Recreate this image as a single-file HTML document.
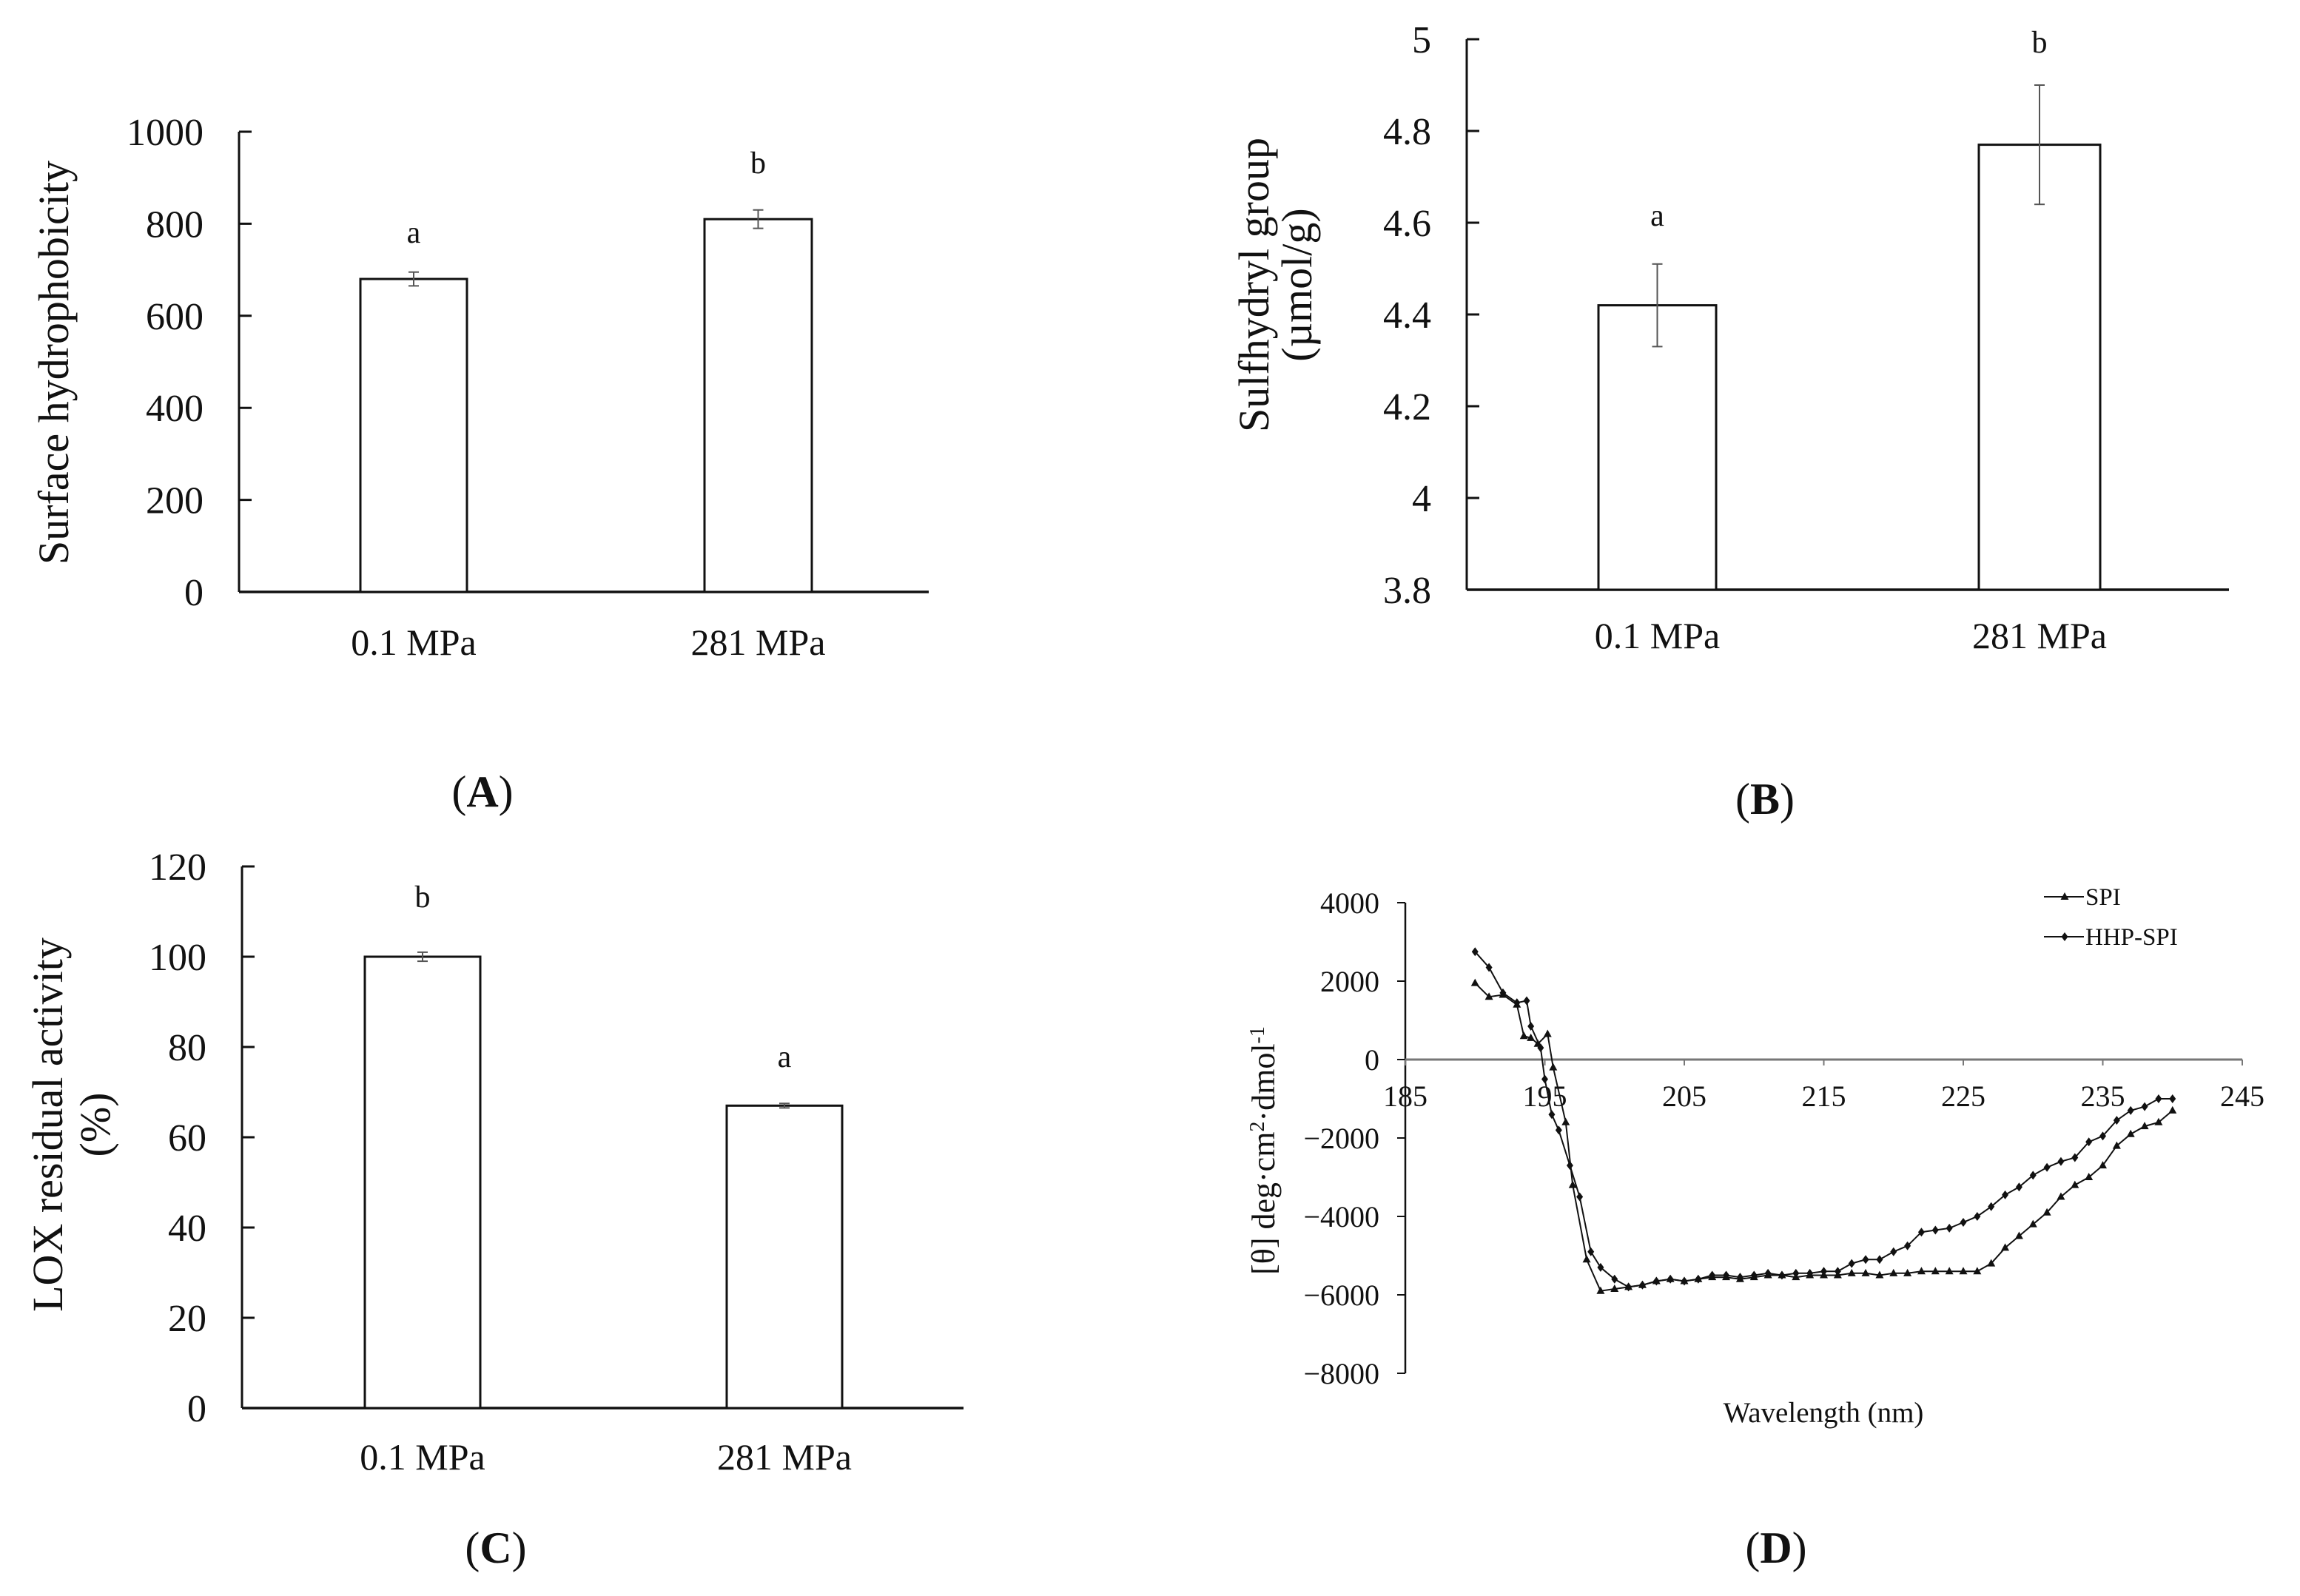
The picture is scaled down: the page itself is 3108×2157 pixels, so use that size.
<!DOCTYPE html>
<html><head><meta charset="utf-8"><style>
html,body{margin:0;padding:0;background:#fff}
svg{display:block}
text{font-family:"Liberation Serif",serif;fill:#111}
</style></head><body>
<svg id="fig" width="3108" height="2157" viewBox="0 0 3108 2157" xmlns="http://www.w3.org/2000/svg"></svg>
<script>
const NS='http://www.w3.org/2000/svg';
const svg=document.getElementById('fig');
function mk(tag,attrs,parent,txt){const e=document.createElementNS(NS,tag);for(const k in attrs)e.setAttribute(k,attrs[k]);if(txt!==undefined)e.textContent=txt;(parent||svg).appendChild(e);return e;}

// ---- Data ----
const barCats=['0.1 MPa','281 MPa'];
const aVals=[680,810]; const aErr=[15,20]; const aLetters=['a','b'];
const aTicks=[0,200,400,600,800,1000];
const bVals=[4.42,4.77]; const bErr=[0.09,0.13]; const bLetters=['a','b'];
const bTicks=[3.8,4,4.2,4.4,4.6,4.8,5];
const bTickLabels=['3.8','4','4.2','4.4','4.6','4.8','5'];
const cVals=[100,67]; const cErr=[1,0.5]; const cLetters=['b','a'];
const cTicks=[0,20,40,60,80,100,120];
const dXTicks=[185,195,205,215,225,235,245];
const dYTicks=[4000,2000,0,-2000,-4000,-6000,-8000];
const spiX=[190,191,192,193,193.5,194,194.5,195.2,195.6,196.5,197,198,199,200,201,202,203,204,205,206,207,208,209,210,211,212,213,214,215,216,217,218,219,220,221,222,223,224,225,226,227,228,229,230,231,232,233,234,235,236,237,238,239,240];
const spiY=[1950,1600,1650,1400,600,550,400,650,-200,-1600,-3200,-5100,-5900,-5850,-5800,-5750,-5650,-5600,-5650,-5600,-5550,-5550,-5600,-5550,-5500,-5500,-5550,-5500,-5500,-5500,-5450,-5450,-5500,-5450,-5450,-5400,-5400,-5400,-5400,-5400,-5200,-4800,-4500,-4200,-3900,-3500,-3200,-3000,-2700,-2200,-1900,-1700,-1600,-1300];
const hhpX=[190,191,192,193,193.7,194,194.7,195,195.5,196,196.8,197.5,198.3,199,200,201,202,203,204,205,206,207,208,209,210,211,212,213,214,215,216,217,218,219,220,221,222,223,224,225,226,227,228,229,230,231,232,233,234,235,236,237,238,239,240];
const hhpY=[2750,2350,1700,1450,1500,850,300,-500,-1400,-1800,-2700,-3500,-4900,-5300,-5600,-5800,-5750,-5650,-5600,-5650,-5600,-5500,-5500,-5550,-5500,-5450,-5500,-5450,-5450,-5400,-5400,-5200,-5100,-5100,-4900,-4750,-4400,-4350,-4300,-4150,-4000,-3750,-3450,-3250,-2950,-2750,-2600,-2500,-2100,-1950,-1550,-1300,-1200,-1000,-1000];

function barPanel(cfg){
  const g=mk('g',{});
  
  
  const y=v=>cfg.y0px+(v-cfg.min)/(cfg.max-cfg.min)*(cfg.y1px-cfg.y0px);
  const ax=mk('line',{x1:cfg.ax,y1:y(cfg.max),x2:cfg.ax,y2:y(cfg.min),stroke:'#111','stroke-width':3},g);
  
  const xa=mk('line',{x1:cfg.ax,y1:y(cfg.min),x2:cfg.xEnd,y2:y(cfg.min),stroke:'#111','stroke-width':3.5},g);
  
  cfg.ticks.forEach((t,i)=>{
    mk('line',{x1:cfg.ax,y1:y(t),x2:cfg.ax+17,y2:y(t),stroke:'#111','stroke-width':3},g);
    const tl=mk('text',{x:cfg.ax-48,y:y(t)+18,'text-anchor':'end','font-size':52},g,cfg.tickLabels?cfg.tickLabels[i]:String(t));
    
  });
  cfg.vals.forEach((v,i)=>{
    const [l,r]=cfg.bars[i];const cx=(l+r)/2;
    const b=mk('rect',{x:l,y:y(v),width:r-l,height:y(cfg.min)-y(v),fill:'#fff',stroke:'#111','stroke-width':3},g);
    
    const e=cfg.err[i];
    mk('line',{x1:cx,y1:y(v-e),x2:cx,y2:y(v+e),stroke:'#555','stroke-width':2},g);
    mk('line',{x1:cx-7,y1:y(v-e),x2:cx+7,y2:y(v-e),stroke:'#555','stroke-width':2},g);
    mk('line',{x1:cx-7,y1:y(v+e),x2:cx+7,y2:y(v+e),stroke:'#555','stroke-width':2},g);
    const lt=mk('text',{x:cx,y:cfg.letterY[i]+13,'text-anchor':'middle','font-size':42},g,cfg.letters[i]);
    
    const cl=mk('text',{x:cx,y:cfg.catY+16,'text-anchor':'middle','font-size':50},g,barCats[i]);
    
  });
  cfg.title.forEach((tt,i)=>{
    const tx=cfg.titleX[i];
    const t=mk('text',{x:tx,y:cfg.titleY,'text-anchor':'middle','font-size':58,transform:`rotate(-90 ${tx} ${cfg.titleY})`},g,tt);
    
  });
  const pl=mk('text',{x:cfg.panelX,y:cfg.panelY+20,'text-anchor':'middle','font-size':60},g);
  
  pl.appendChild(document.createTextNode('('));
  mk('tspan',{'font-weight':'bold'},pl,cfg.panel);
  pl.appendChild(document.createTextNode(')'));
}

barPanel({name:'panel-a-chart',min:0,max:1000,y0px:800,y1px:178,ax:323,xEnd:1255,ticks:aTicks,vals:aVals,err:aErr,letters:aLetters,
  bars:[[487,631],[952,1097]],letterY:[315,221],catY:869,title:['Surface hydrophobicity'],titleX:[92],titleY:490,panel:'A',panelX:652,panelY:1070});
barPanel({name:'panel-b-chart',min:3.8,max:5,y0px:797,y1px:53,ax:1982,xEnd:3012,ticks:bTicks,tickLabels:bTickLabels,vals:bVals,err:bErr,letters:bLetters,
  bars:[[2160,2319],[2674,2838]],letterY:[292,58],catY:860,title:['Sulfhydryl group','(µmol/g)'],titleX:[1714,1772],titleY:385,panel:'B',panelX:2385,panelY:1080});
barPanel({name:'panel-c-chart',min:0,max:120,y0px:1903,y1px:1171,ax:327,xEnd:1302,ticks:cTicks,vals:cVals,err:cErr,letters:cLetters,
  bars:[[493,649],[982,1138]],letterY:[1213,1429],catY:1970,title:['LOX residual activity','(%)'],titleX:[84,148],titleY:1520,panel:'C',panelX:670,panelY:2092});

// ---- Panel D ----
(function(){
  const g=mk('g',{});
  
  
  const x=v=>1899+(v-185)/60*(3030-1899);
  const y=v=>1432-v/2000*106;
  const ya=mk('line',{x1:1899,y1:y(4000),x2:1899,y2:y(-8000),stroke:'#111','stroke-width':2.5},g);
  
  const xa=mk('line',{x1:1899,y1:y(0),x2:3030,y2:y(0),stroke:'#777','stroke-width':3},g);
  
  dYTicks.forEach(t=>{
    mk('line',{x1:1888,y1:y(t),x2:1899,y2:y(t),stroke:'#111','stroke-width':2},g);
    const lab=t<0?'\u2212'+(-t):String(t);
    const tl=mk('text',{x:1864,y:y(t)+14,'text-anchor':'end','font-size':40},g,lab);
    
  });
  dXTicks.forEach(t=>{
    mk('line',{x1:x(t),y1:y(0),x2:x(t),y2:y(0)+8,stroke:'#777','stroke-width':2},g);
    const tl=mk('text',{x:x(t),y:1495,'text-anchor':'middle','font-size':40},g,String(t));
    
  });
  function series(xs,ys,marker,name){
    const pts=xs.map((v,i)=>x(v).toFixed(1)+','+y(ys[i]).toFixed(1)).join(' ');
    const pl=mk('polyline',{points:pts,fill:'none',stroke:'#111','stroke-width':2},g);
    
    xs.forEach((v,i)=>{
      const px=x(v),py=y(ys[i]);
      const m=marker==='tri'?mk('polygon',{points:`${px},${py-6} ${px-5.5},${py+4} ${px+5.5},${py+4}`,fill:'#111'},g)
                           :mk('polygon',{points:`${px},${py-6} ${px+4.5},${py} ${px},${py+6} ${px-4.5},${py}`,fill:'#111'},g);
      
    });
  }
  series(spiX,spiY,'tri','spi');
  series(hhpX,hhpY,'dia','hhp-spi');
  const leg=mk('g',{},g);
  
  mk('line',{x1:2762,y1:1212,x2:2816,y2:1212,stroke:'#111','stroke-width':2},leg);
  mk('polygon',{points:'2790,1206 2784.5,1216 2795.5,1216',fill:'#111'},leg);
  const l1=mk('text',{x:2818,y:1223,'font-size':33},leg,'SPI');
  
  mk('line',{x1:2762,y1:1266,x2:2816,y2:1266,stroke:'#111','stroke-width':2},leg);
  mk('polygon',{points:'2790,1260 2794.5,1266 2790,1272 2785.5,1266',fill:'#111'},leg);
  const l2=mk('text',{x:2818,y:1277,'font-size':33},leg,'HHP-SPI');
  
  const xt=mk('text',{x:2464,y:1922,'text-anchor':'middle','font-size':39},g,'Wavelength (nm)');
  
  const yt=mk('text',{x:1722,y:1555,'text-anchor':'middle','font-size':44,transform:'rotate(-90 1722 1555)'},g);
  
  yt.innerHTML='[θ] deg·cm<tspan dy="-14" font-size="28">2</tspan><tspan dy="14">·dmol</tspan><tspan dy="-14" font-size="28">-1</tspan>';
  const pl=mk('text',{x:2400,y:2112,'text-anchor':'middle','font-size':60},g);
  
  pl.appendChild(document.createTextNode('('));
  mk('tspan',{'font-weight':'bold'},pl,'D');
  pl.appendChild(document.createTextNode(')'));
})();
</script>
</body></html>
